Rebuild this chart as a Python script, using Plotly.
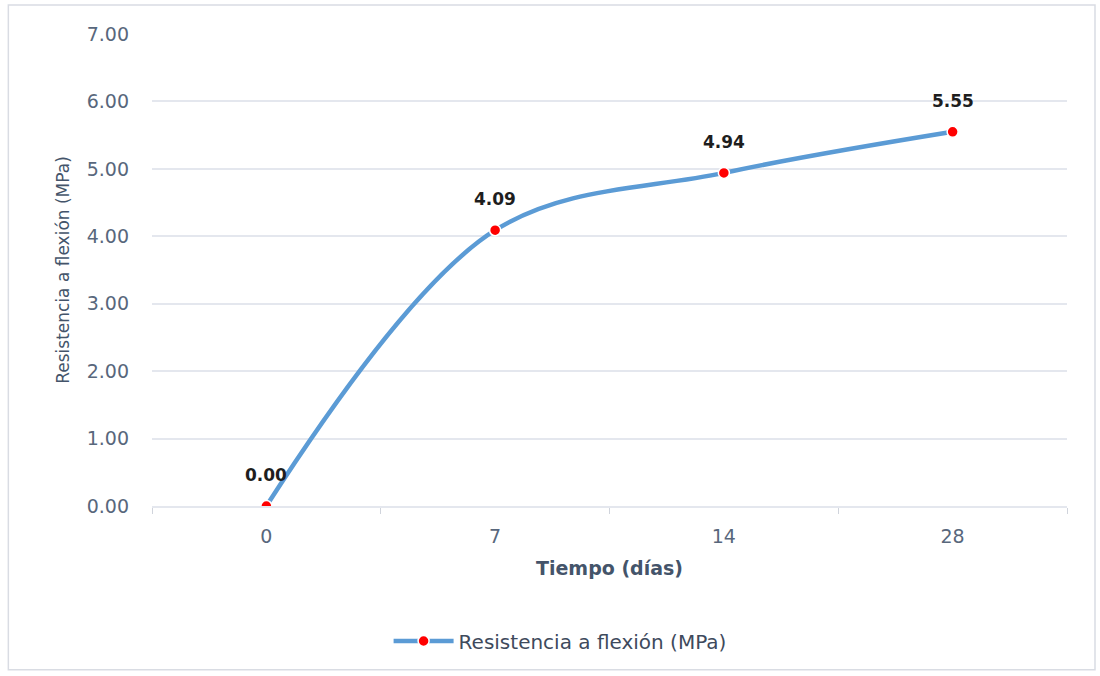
import plotly.graph_objects as go

# Flexural strength over curing time
dias = ["0", "7", "14", "28"]
resistencia = [0.00, 4.09, 4.94, 5.55]
y_ticks = [0, 1, 2, 3, 4, 5, 6, 7]

serie = "Resistencia a flexión (MPa)"
azul = "#5B9BD5"
gris_texto = "#58677C"
gris_rejilla = "#E4E7EE"
fuente = "DejaVu Sans"

fig = go.Figure()
fig.add_trace(go.Scatter(
    x=dias, y=resistencia, name=serie,
    mode="lines+markers",
    line=dict(color=azul, width=4.5, shape="spline", smoothing=1.0),
    marker=dict(color="#FF0000", size=11, line=dict(color="white", width=1.5)),
    hoverinfo="x+y",
))

# bold value labels above each point (category positions by index)
for i, v in enumerate(resistencia):
    fig.add_annotation(
        x=i, y=v, text=f"<b>{v:.2f}</b>", showarrow=False,
        yshift=31, font=dict(family=fuente, size=17, color="#1E1E1E"),
    )

# outer chart frame
fig.add_shape(type="rect", xref="paper", yref="paper",
              x0=-0.157, x1=1.0306, y0=-0.347, y1=1.0614,
              line=dict(color="#D9DCE3", width=1.5), fillcolor="rgba(0,0,0,0)",
              layer="below")

fig.update_layout(
    width=1100, height=676,
    margin=dict(l=152, r=33, t=34, b=170),
    paper_bgcolor="white", plot_bgcolor="white",
    font=dict(family=fuente, color=gris_texto),
    showlegend=True,
    legend=dict(
        orientation="h", x=0.446, xanchor="center", y=-0.286, yanchor="middle",
        font=dict(family=fuente, size=20, color="#3E4A5C"),
        itemwidth=60,
    ),
    xaxis=dict(
        type="category", range=[-0.5, 3.5],
        showgrid=False, showline=True, linecolor=gris_rejilla, linewidth=1.5,
        ticks="outside", tickson="boundaries", ticklen=6, tickcolor="#D0D4DC",
        tickfont=dict(family=fuente, size=19, color=gris_texto),
        ticklabelstandoff=12,
        title=dict(text="<b>Tiempo (días)</b>", font=dict(family=fuente, size=19, color="#44546A"), standoff=16),
    ),
    yaxis=dict(
        range=[0, 7], tickvals=y_ticks, tickformat=".2f",
        showgrid=True, gridcolor=gris_rejilla, gridwidth=1.5,
        zeroline=False, showline=False, ticks="",
        tickfont=dict(family=fuente, size=19, color=gris_texto),
        ticklabelstandoff=22,
        title=dict(text=serie, font=dict(family=fuente, size=17, color="#44546A"), standoff=12),
    ),
)

fig.write_html("out.html")
